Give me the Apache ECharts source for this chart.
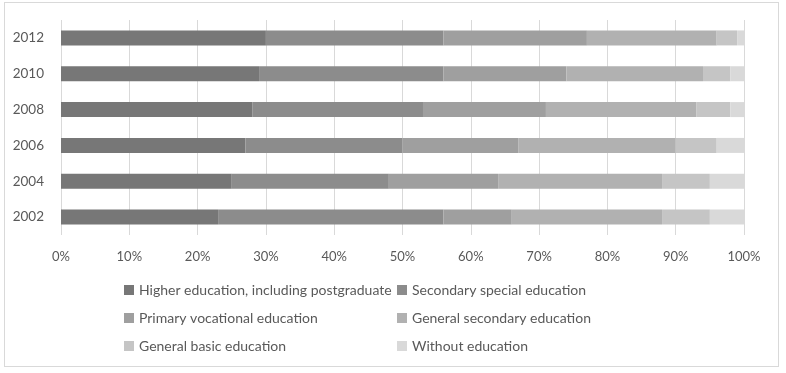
<!DOCTYPE html>
<html>
<head>
<meta charset="utf-8">
<script src="https://cdn.jsdelivr.net/npm/echarts@6/dist/echarts.min.js"></script>
<style>
html,body{margin:0;padding:0;background:#fff;}
#frame{position:absolute;left:4px;top:2px;width:775px;height:365px;border:1px solid #d9d9d9;box-sizing:border-box;}
#chart{position:absolute;left:0;top:0;width:786px;height:373px;}
</style>
</head>
<body>
<div id="frame"></div>
<div id="chart"></div>
<script>
const years = ['2002', '2004', '2006', '2008', '2010', '2012'];
const seriesNames = [
  'Higher education, including postgraduate',
  'Secondary special education',
  'Primary vocational education',
  'General secondary education',
  'General basic education',
  'Without education'
];
const higher = [23, 25, 27, 28, 29, 30];
const secondarySpecial = [33, 23, 23, 25, 27, 26];
const primaryVocational = [10, 16, 17, 18, 18, 21];
const generalSecondary = [22, 24, 23, 22, 20, 19];
const generalBasic = [7, 7, 6, 5, 4, 3];
const withoutEducation = [5, 5, 4, 2, 2, 1];
const xTicks = [0, 10, 20, 30, 40, 50, 60, 70, 80, 90, 100];

const values = [higher, secondarySpecial, primaryVocational, generalSecondary, generalBasic, withoutEducation];
const colors = ['#777777', '#8c8c8c', '#9f9f9f', '#b1b1b1', '#c5c5c5', '#d9d9d9'];
const font = 'Lato, "Open Sans", sans-serif';

const legendPos = [
  [124, 283], [397, 283],
  [124, 311], [397, 311],
  [124, 339], [397, 339]
];

const chart = echarts.init(document.getElementById('chart'), null, {renderer: 'canvas'});
chart.setOption({
  animation: false,
  color: colors,
  grid: {left: 61, right: 42, top: 20, bottom: 138, containLabel: false},
  xAxis: {
    type: 'value',
    min: xTicks[0],
    max: xTicks[xTicks.length - 1],
    interval: 10,
    axisLine: {show: false},
    axisTick: {show: false},
    splitLine: {show: true, lineStyle: {color: '#d9d9d9', width: 1}},
    axisLabel: {formatter: '{value}%', color: '#595959', fontFamily: font, fontSize: 13, margin: 15}
  },
  yAxis: {
    type: 'category',
    data: years,
    axisLine: {show: false},
    axisTick: {show: false},
    axisLabel: {color: '#595959', fontFamily: font, fontSize: 13.5, margin: 17}
  },
  legend: seriesNames.map((n, i) => ({
    data: [n],
    left: legendPos[i][0],
    top: legendPos[i][1],
    padding: 0,
    itemWidth: 10,
    itemHeight: 10,
    icon: 'rect',
    selectedMode: false,
    textStyle: {color: '#595959', fontFamily: font, fontSize: 14}
  })),
  series: seriesNames.map((n, i) => ({
    name: n,
    type: 'bar',
    stack: 'total',
    barWidth: 15,
    data: values[i],
    itemStyle: {color: colors[i]}
  }))
});
</script>
</body>
</html>
